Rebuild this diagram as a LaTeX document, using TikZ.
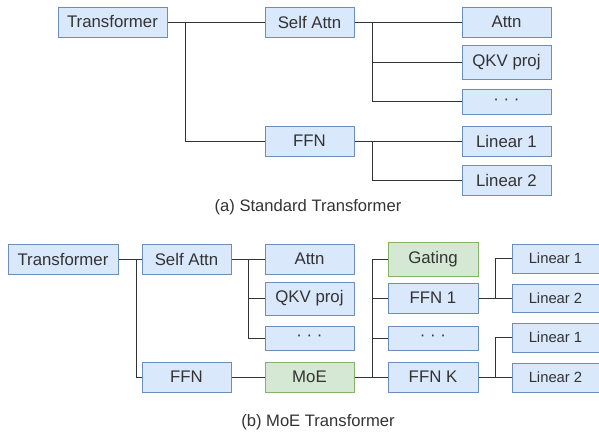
\documentclass[tikz,border=0pt]{standalone}
\usepackage{fontspec}
\setmainfont{Liberation Sans}
\usepackage{tikz}
\usetikzlibrary{positioning}

\definecolor{boxblue}{HTML}{DAE8FC}
\definecolor{lineblue}{HTML}{6C8EBF}
\definecolor{boxgreen}{HTML}{D5E8D4}
\definecolor{linegreen}{HTML}{82B366}
\definecolor{txtgray}{HTML}{333333}

\tikzset{
  blk/.style={draw=lineblue, fill=boxblue, line width=1pt, inner sep=0pt,
    minimum width=89pt, minimum height=30pt, text=txtgray,
    font=\fontsize{16.8}{20}\selectfont},
  grn/.style={blk, draw=linegreen, fill=boxgreen},
  sml/.style={blk, minimum width=87pt, minimum height=29pt,
    font=\fontsize{14.8}{18}\selectfont},
  wire/.style={draw=txtgray, line width=1pt},
  captxt/.style={text=txtgray, font=\fontsize{16.6}{20}\selectfont}
}

\begin{document}
\begin{tikzpicture}[x=1pt,y=-1pt]
\useasboundingbox (0,0) rectangle (599,434);

% (a) standard
\node[blk, minimum width=109pt] (tf_a) at (112.5,22) {Transformer};
\node[blk] (sa_a) at (309.5,22) {Self Attn};
\node[blk] (ffn_a) at (309.5,141) {FFN};
\node[blk] (attn_a) at (506.5,22) {Attn};
\node[blk, minimum height=34pt] (qkv_a) at (506.5,62) {QKV proj};
\node[blk, minimum height=25pt] (dots_a) at (506.5,101.5) {· · ·};
\node[blk] (lin1_a) at (506.5,141) {Linear 1};
\node[blk] (lin2_a) at (506.5,180) {Linear 2};
\node[captxt] (cap_a) at (308,207) {(a) Standard Transformer};

\coordinate (j_tf_a) at (185,22);
\coordinate (j_sa_a) at (372,22);
\coordinate (j_ffn_a) at (372,141);

\path[wire]
(tf_a) -- (sa_a)
(j_tf_a) |- (ffn_a)
(sa_a) -- (attn_a)
(j_sa_a) |- (qkv_a)
(j_sa_a) |- (dots_a)
(ffn_a) -- (lin1_a)
(j_ffn_a) |- (lin2_a)
; %end path

% (b) moe
\node[blk, minimum width=110pt] (tf_b) at (63,259) {Transformer};
\node[blk] (sa_b) at (186.5,259) {Self Attn};
\node[blk] (ffn_b) at (186.5,377) {FFN};
\node[blk] (attn_b) at (309.5,259) {Attn};
\node[blk, minimum height=33pt] (qkv_b) at (309.5,298.5) {QKV proj};
\node[blk, minimum height=24pt] (dots_b) at (309.5,338) {· · ·};
\node[grn] (moe) at (309.5,377) {MoE};
\node[grn, minimum width=90pt, minimum height=34pt] (gate) at (433,259) {Gating};
\node[blk, minimum width=90pt] (ffn_1) at (433,298) {FFN 1};
\node[blk, minimum width=90pt, minimum height=24pt] (dots_c) at (433,338) {· · ·};
\node[blk, minimum width=90pt] (ffn_k) at (433,377) {FFN K};
\node[sml] (lin1_1) at (555.5,258.5) {Linear 1};
\node[sml, minimum height=28pt] (lin2_1) at (555.5,298) {Linear 2};
\node[sml] (lin1_k) at (555.5,337.5) {Linear 1};
\node[sml] (lin2_k) at (555.5,377.5) {Linear 2};
\node[captxt] (cap_b) at (318,422) {(b) MoE Transformer};

\coordinate (j_tf_b) at (136,259);
\coordinate (j_sa_b) at (248,259);
\coordinate (j_moe) at (372,377);
\coordinate (j_ffn_1) at (495,298);
\coordinate (j_ffn_k) at (495,377);

\path[wire]
(tf_b) -- (sa_b)
(j_tf_b) |- (ffn_b)
(sa_b) -- (attn_b)
(j_sa_b) |- (qkv_b)
(j_sa_b) |- (dots_b)
(ffn_b) -- (moe)
(moe) -- (ffn_k)
(j_moe) |- (gate)
(j_moe) |- (ffn_1)
(j_moe) |- (dots_c)
(ffn_1) -- (lin2_1)
(j_ffn_1) |- (lin1_1)
(ffn_k.east) -- (j_ffn_k) |- (lin1_k)
(j_ffn_k) |- (lin2_k)
; %end path
\end{tikzpicture}
\end{document}
